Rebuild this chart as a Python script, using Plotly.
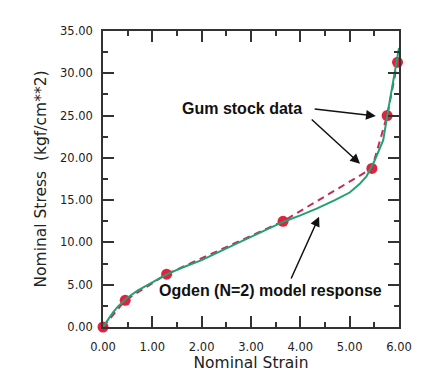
import plotly.graph_objects as go

# Experimental data (gum stock)
strain_data = [0.0, 0.45, 1.29, 3.65, 5.45, 5.76, 5.97]
stress_data = [0.0, 3.15, 6.25, 12.5, 18.75, 25.0, 31.3]

# Ogden (N=2) model response
strain_model = [0.0, 0.1, 0.2, 0.3, 0.48, 0.7, 0.95, 1.3, 1.6, 2.0, 2.5, 3.0, 3.66, 4.0, 4.33, 4.7, 5.0, 5.2, 5.34, 5.5, 5.68, 5.8, 5.9, 6.0]
stress_model = [0.0, 0.9, 1.7, 2.4, 3.4, 4.3, 5.15, 6.25, 7.0, 7.9, 9.3, 10.7, 12.45, 13.2, 14.0, 15.0, 15.9, 16.9, 17.8, 19.6, 22.1, 26.3, 29.6, 33.0]

x_ticks = [0, 1, 2, 3, 4, 5, 6]
x_ticklabels = ["0.00", "1.00", "2.00", "3.00", "4.00", "5.00", "6.00"]
y_ticks = [0, 5, 10, 15, 20, 25, 30, 35]
y_ticklabels = ["0.00", "5.00", "10.00", "15.00", "20.00", "25.00", "30.00", "35.00"]

RED = "#e3213d"
DASH = "#c42a55"
GREEN = "#23a072"
AX = "#333333"
TICKFONT = dict(family="DejaVu Sans", size=11.5, color="#222222")

fig = go.Figure()
fig.add_trace(go.Scatter(x=strain_data, y=stress_data, mode="markers",
                         marker=dict(color=RED, size=11, line=dict(width=0)),
                         showlegend=False, cliponaxis=False))
fig.add_trace(go.Scatter(x=strain_data, y=stress_data, mode="lines",
                         line=dict(color=DASH, width=2, dash="7px,5px"),
                         showlegend=False))
fig.add_trace(go.Scatter(x=strain_model, y=stress_model, mode="lines",
                         line=dict(color=GREEN, width=2),
                         showlegend=False, cliponaxis=False))

axis_common = dict(
    showgrid=False, zeroline=False, showline=True, linecolor=AX, linewidth=1.5,
    mirror="ticks", ticks="inside", ticklen=11, tickwidth=1.5, tickcolor=AX,
    tickfont=TICKFONT, automargin=False,
)

fig.update_xaxes(range=[0, 6], tickvals=x_ticks, ticktext=x_ticklabels,
                 minor=dict(ticks="inside", ticklen=5, tickwidth=1.5, tickcolor=AX, dtick=0.5),
                 ticklabelstandoff=8,
                 title=dict(text="Nominal Strain", font=dict(family="DejaVu Sans", size=15.5, color="#222222"), standoff=4),
                 **axis_common)
fig.update_yaxes(range=[0, 35], tickvals=y_ticks, ticktext=y_ticklabels,
                 minor=dict(ticks="inside", ticklen=5, tickwidth=1.5, tickcolor=AX, dtick=2.5),
                 ticklabelstandoff=6,
                 title=dict(text="Nominal Stress  (kgf/cm**2)", font=dict(family="DejaVu Sans", size=15.5, color="#222222"), standoff=10),
                 **axis_common)

BOLD = dict(family="Liberation Sans", size=16, color="#111111")
fig.add_annotation(x=2.82, y=25.8, text="<b>Gum stock data</b>", showarrow=False, font=BOLD)
fig.add_annotation(x=5.53, y=24.95, ax=4.26, ay=25.8, axref="x", ayref="y", text="",
                   showarrow=True, arrowhead=2, arrowsize=1.3, arrowwidth=1.5, arrowcolor="#111111")
fig.add_annotation(x=5.21, y=19.3, ax=4.2, ay=24.7, axref="x", ayref="y", text="",
                   showarrow=True, arrowhead=2, arrowsize=1.3, arrowwidth=1.5, arrowcolor="#111111")
fig.add_annotation(x=3.39, y=4.26, text="<b>Ogden (N=2) model response</b>", showarrow=False, font=BOLD)
fig.add_annotation(x=4.38, y=13.05, ax=3.8, ay=5.56, axref="x", ayref="y", text="",
                   showarrow=True, arrowhead=2, arrowsize=1.3, arrowwidth=1.5, arrowcolor="#111111")

# page has an 8px body margin, so offsets are compensated here
fig.update_layout(width=432, height=384, margin=dict(l=95, r=41, t=23, b=65),
                  paper_bgcolor="white", plot_bgcolor="white")

fig.write_html("out.html")
